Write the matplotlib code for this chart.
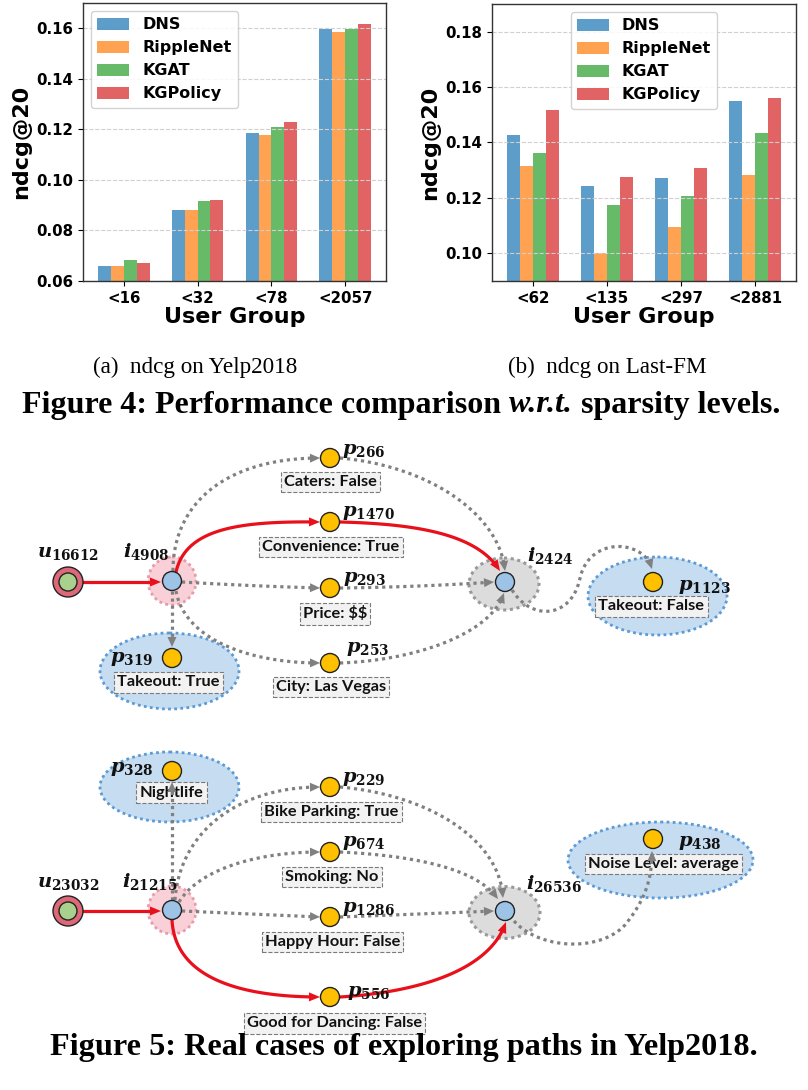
import matplotlib
matplotlib.use('Agg')
import matplotlib.pyplot as plt
import numpy as np
from matplotlib.patches import Circle, Ellipse, Polygon

# ---------------- data ----------------
methods = ['DNS', 'RippleNet', 'KGAT', 'KGPolicy']

yelp_groups = ['<16', '<32', '<78', '<2057']
yelp_dns = [0.0660, 0.0882, 0.1184, 0.1597]
yelp_ripplenet = [0.0660, 0.0882, 0.1176, 0.1585]
yelp_kgat = [0.0683, 0.0918, 0.1208, 0.1597]
yelp_kgpolicy = [0.0672, 0.0922, 0.1228, 0.1617]
yelp_yticks = [0.06, 0.08, 0.10, 0.12, 0.14, 0.16]

lastfm_groups = ['<62', '<135', '<297', '<2881']
lastfm_dns = [0.1427, 0.1243, 0.1271, 0.1550]
lastfm_ripplenet = [0.1315, 0.1000, 0.1095, 0.1283]
lastfm_kgat = [0.1362, 0.1174, 0.1207, 0.1434]
lastfm_kgpolicy = [0.1517, 0.1276, 0.1308, 0.1561]
lastfm_yticks = [0.10, 0.12, 0.14, 0.16, 0.18]

ylabel = 'ndcg@20'
xlabel = 'User Group'
subcaptions = ['(a)  ndcg on Yelp2018', '(b)  ndcg on Last-FM']
fig4_caption = ['Figure 4: Performance comparison ', 'w.r.t.', ' sparsity levels.']
fig5_caption = 'Figure 5: Real cases of exploring paths in Yelp2018.'

# case study text
case1_user, case1_item_a, case1_item_b = '16612', '4908', '2424'
case1_pids = ['266', '1470', '293', '253', '319', '1123']
case1_attrs = ['Caters: False', 'Convenience: True', 'Price: $$', 'City: Las Vegas',
               'Takeout: True', 'Takeout: False']
case2_user, case2_item_a, case2_item_b = '23032', '21215', '26536'
case2_pids = ['328', '229', '674', '1286', '556', '438']
case2_attrs = ['Nightlife', 'Bike Parking: True', 'Smoking: No', 'Happy Hour: False',
               'Good for Dancing: False', 'Noise Level: average']

# ---------------- figure ----------------
W, H = 808, 1090
plt.rcParams['mathtext.fontset'] = 'custom'
plt.rcParams['mathtext.it'] = 'DejaVu Serif:italic:bold'
plt.rcParams['mathtext.rm'] = 'DejaVu Serif:bold'
plt.rcParams['mathtext.bf'] = 'DejaVu Serif:bold'

fig = plt.figure(figsize=(W / 100, H / 100), dpi=100)


def px_axes(x0, y0, x1, y1):
    return fig.add_axes([x0 / W, 1 - y1 / H, (x1 - x0) / W, (y1 - y0) / H])


colors = ['#1f77b4', '#ff7f0e', '#2ca02c', '#d62728']


def bar_panel(ax, groups, series, yticks, ylim, loc):
    x = np.arange(len(groups))
    w = 0.175
    for k, (vals, name, c) in enumerate(zip(series, methods, colors)):
        ax.bar(x + (k - 1.5) * w, vals, w, color=c, alpha=0.72, label=name)
    ax.set_xlim(-0.55, 3.55)
    ax.set_ylim(*ylim)
    ax.set_yticks(yticks)
    ax.set_yticklabels(['%.2f' % v for v in yticks], fontsize=10.8, fontweight='bold')
    ax.set_xticks(x)
    ax.set_xticklabels(groups, fontsize=10.8, fontweight='bold')
    ax.set_ylabel(ylabel, fontsize=16, fontweight='bold', labelpad=4)
    ax.set_xlabel(xlabel, fontsize=16, fontweight='bold', labelpad=1)
    ax.yaxis.grid(True, linestyle='--', color='#d0d0d0', linewidth=0.8)
    for s in ax.spines.values():
        s.set_color('#333333')
        s.set_linewidth(1.0)
    leg = ax.legend(loc=loc, prop={'weight': 'bold', 'size': 11.5}, handlelength=2.0,
                    handleheight=0.8, handletextpad=0.8, labelspacing=0.5,
                    borderpad=0.4, framealpha=0.85)
    leg.get_frame().set_edgecolor('#cccccc')


ax1 = px_axes(83, 3, 386, 281)
bar_panel(ax1, yelp_groups, [yelp_dns, yelp_ripplenet, yelp_kgat, yelp_kgpolicy],
          yelp_yticks, (0.06, 0.17), 'upper left')
ax2 = px_axes(492, 4, 796, 281)
bar_panel(ax2, lastfm_groups, [lastfm_dns, lastfm_ripplenet, lastfm_kgat, lastfm_kgpolicy],
          lastfm_yticks, (0.09, 0.19), 'upper center')

# ---------------- diagram canvas (pixel coordinates) ----------------
axd = fig.add_axes([0, 0, 1, 1])
axd.set_xlim(0, W)
axd.set_ylim(H, 0)
axd.axis('off')
axd.patch.set_alpha(0)

GREY = '#808080'
RED = '#e8101a'


def bez(P, n=120):
    P = np.asarray(P, float)
    t = np.linspace(0, 1, n)[:, None]
    if len(P) == 2:
        return P[0] * (1 - t) + P[1] * t
    if len(P) == 3:
        return (1 - t) ** 2 * P[0] + 2 * (1 - t) * t * P[1] + t ** 2 * P[2]
    return ((1 - t) ** 3 * P[0] + 3 * (1 - t) ** 2 * t * P[1]
            + 3 * (1 - t) * t ** 2 * P[2] + t ** 3 * P[3])


def edge(segs, red=False, head=True):
    pts = np.vstack([bez(s) for s in segs])
    color = RED if red else GREY
    tip = pts[-1]
    L = 11 if red else 10
    d = pts[-1] - pts[-6]
    d = d / np.linalg.norm(d)
    if head:
        keep = np.linalg.norm(pts - tip, axis=1) > L * 0.7
        keep[: len(pts) // 2] = True
        line = pts[keep]
    else:
        line = pts
    if red:
        axd.plot(line[:, 0], line[:, 1], color=color, lw=2.3, solid_capstyle='round', zorder=3)
    else:
        axd.plot(line[:, 0], line[:, 1], color=color, lw=2.3, linestyle=(0, (1, 1.2)),
                 dash_capstyle='butt', zorder=3)
    if head:
        n = np.array([-d[1], d[0]])
        base = tip - d * L
        hw = 4.5
        axd.add_patch(Polygon([tip, base + n * hw, base - n * hw], closed=True,
                              facecolor=color, edgecolor='none', zorder=3.5))


def prop_node(c):
    axd.add_patch(Circle(c, 9.5, facecolor='#ffc000', edgecolor='#222222', lw=1.0, zorder=4))


def item_node(c):
    axd.add_patch(Circle(c, 9.5, facecolor='#9dc3e6', edgecolor='#222222', lw=1.0, zorder=4))


def user_node(c):
    axd.add_patch(Circle(c, 15, facecolor='#dc6878', edgecolor='#222222', lw=1.0, zorder=4))
    axd.add_patch(Circle(c, 9, facecolor='#a9d18e', edgecolor='#222222', lw=1.0, zorder=4.1))


def pink_halo(c):
    axd.add_patch(Circle(c, 24, facecolor='#f9d0d7', edgecolor='#e79aa8', lw=2.0,
                         linestyle=(0, (1, 1.2)), zorder=1))


def grey_halo(c, w, h):
    axd.add_patch(Ellipse(c, w, h, facecolor='#dcdcdc', edgecolor='#999999', lw=2.2,
                          linestyle=(0, (1, 1.2)), zorder=1))


def blue_ell(c, w, h):
    axd.add_patch(Ellipse(c, w, h, facecolor='#c6dcf1', edgecolor='#5b9bd5', lw=2.0,
                          linestyle=(0, (1, 1.2)), zorder=1))


def attr_box(c, s):
    axd.text(c[0], c[1], s, ha='center', va='center', fontsize=11.8, fontweight='bold',
             family='Lato', color='#111111', parse_math=False, zorder=2,
             bbox=dict(boxstyle='square,pad=0.2', facecolor='#f2f2f2', edgecolor='#7a7a7a',
                       linestyle='--', linewidth=0.8))


def sym(c, letter, sub, ha='left'):
    axd.text(c[0], c[1], r'$%s_{%s}$' % (letter, sub), ha=ha, va='center', fontsize=14,
             color='#111111', zorder=5)


# ---- case 1 ----
U1, IA1, IB1 = (68, 582), (172, 581), (505, 582)
P1 = [(330, 458), (330, 522), (330, 588), (330, 663), (172, 658), (653, 582)]
blue_ell((169.5, 671), 139, 76)
blue_ell((657.5, 596), 139, 78)
pink_halo(IA1)
grey_halo((504, 584), 70, 52)

edge([[(83, 582), (161, 582)]], red=True)
edge([[(173, 571), (173, 500), (230, 458), (320, 458)]])
edge([[(340, 458), (430, 466), (500, 515), (505, 571)]])
edge([[(176, 572), (186, 528), (240, 521), (320, 522)]], red=True)
edge([[(340, 522), (420, 524), (478, 535), (500, 571)]], red=True)
edge([[(182, 582), (250, 586), (320, 588)]])
edge([[(340, 588), (420, 587), (494, 582)]])
edge([[(176, 591), (185, 640), (250, 663), (320, 663)]])
edge([[(340, 663), (420, 660), (492, 632), (504, 593)]])
edge([[(172, 591), (172, 647)]])
edge([[(512, 590), (532, 622), (572, 618), (580, 578)],
      [(580, 578), (590, 535), (645, 540), (652, 569)]])

user_node(U1)
item_node(IA1)
item_node(IB1)
for p in P1:
    prop_node(p)

sym((68, 552), 'u', case1_user, ha='center')
sym((146, 552), 'i', case1_item_a, ha='center')
sym((550, 556), 'i', case1_item_b, ha='center')
sym((342, 450), 'p', case1_pids[0])
sym((342, 513), 'p', case1_pids[1])
sym((343, 579), 'p', case1_pids[2])
sym((346, 649), 'p', case1_pids[3])
sym((153, 658), 'p', case1_pids[4], ha='right')
sym((678, 586), 'p', case1_pids[5])

attr_box((330.5, 482), case1_attrs[0])
attr_box((331, 547), case1_attrs[1])
attr_box((335, 614), case1_attrs[2])
attr_box((331, 687), case1_attrs[3])
attr_box((168.5, 682.5), case1_attrs[4])
attr_box((651.5, 606.5), case1_attrs[5])

# ---- case 2 ----
U2, IA2, IB2 = (68, 911), (172, 910), (505, 911)
P2 = [(172, 771), (330, 787), (330, 852), (330, 917), (330, 997), (653, 839)]
blue_ell((169.5, 787), 139, 70)
blue_ell((660.5, 860), 185, 76)
pink_halo(IA2)
grey_halo((504.5, 912.5), 71, 52)

edge([[(83, 911), (161, 911)]], red=True)
edge([[(172, 900), (172, 782)]])
edge([[(175, 900), (180, 830), (240, 787), (320, 787)]])
edge([[(340, 787), (430, 795), (500, 840), (503, 898)]])
edge([[(179, 902), (200, 868), (260, 852), (320, 852)]])
edge([[(340, 852), (420, 856), (478, 870), (498, 899)]])
edge([[(182, 911), (250, 914), (320, 917)]])
edge([[(340, 917), (420, 914), (494, 911)]])
edge([[(172, 920), (175, 978), (240, 997), (320, 997)]], red=True)
edge([[(340, 997), (420, 992), (490, 970), (506, 922)]], red=True)
edge([[(514, 921), (540, 950), (600, 952), (625, 925)],
      [(625, 925), (645, 900), (652, 880), (652, 851)]])

user_node(U2)
item_node(IA2)
item_node(IB2)
for p in P2:
    prop_node(p)

sym((68, 882), 'u', case2_user, ha='center')
sym((150, 882), 'i', case2_item_a, ha='center')
sym((554, 884), 'i', case2_item_b, ha='center')
sym((153, 769), 'p', case2_pids[0], ha='right')
sym((342, 778), 'p', case2_pids[1])
sym((342, 843), 'p', case2_pids[2])
sym((342, 908), 'p', case2_pids[3])
sym((347, 992), 'p', case2_pids[4])
sym((678, 843), 'p', case2_pids[5])

attr_box((171.5, 792.5), case2_attrs[0])
attr_box((331.5, 812), case2_attrs[1])
attr_box((332, 877), case2_attrs[2])
attr_box((332.5, 942), case2_attrs[3])
attr_box((334.5, 1023.5), case2_attrs[4])
attr_box((663.5, 864), case2_attrs[5])

# ---------------- captions ----------------
renderer = fig.canvas.get_renderer()


def fit_center(s, cx, cy, target, **kw):
    t = fig.text(cx / W, 1 - cy / H, s, ha='center', va='center', fontsize=20, **kw)
    w = t.get_window_extent(renderer=renderer).width
    t.set_fontsize(20 * target / w)
    return t


fit_center(subcaptions[0], 195.5, 367, 205, family='Liberation Serif')
fit_center(subcaptions[1], 607, 367, 198, family='Liberation Serif')


def fit_pieces(pieces, styles, x0, x1, cy):
    texts = []
    for s, st in zip(pieces, styles):
        texts.append(fig.text(0, 1 - cy / H, s, ha='left', va='center', fontsize=20,
                              family='Liberation Serif', fontweight='bold', style=st))
    tot = sum(t.get_window_extent(renderer=renderer).width for t in texts)
    fs = 20 * (x1 - x0) / tot
    x = x0
    for t in texts:
        t.set_fontsize(fs)
        t.set_x(x / W)
        x += t.get_window_extent(renderer=renderer).width


fit_pieces(fig4_caption, ['normal', 'italic', 'normal'], 22, 780, 405)
fit_pieces([fig5_caption], ['normal'], 50, 757, 1048)

fig.savefig('out.png', dpi=100)
